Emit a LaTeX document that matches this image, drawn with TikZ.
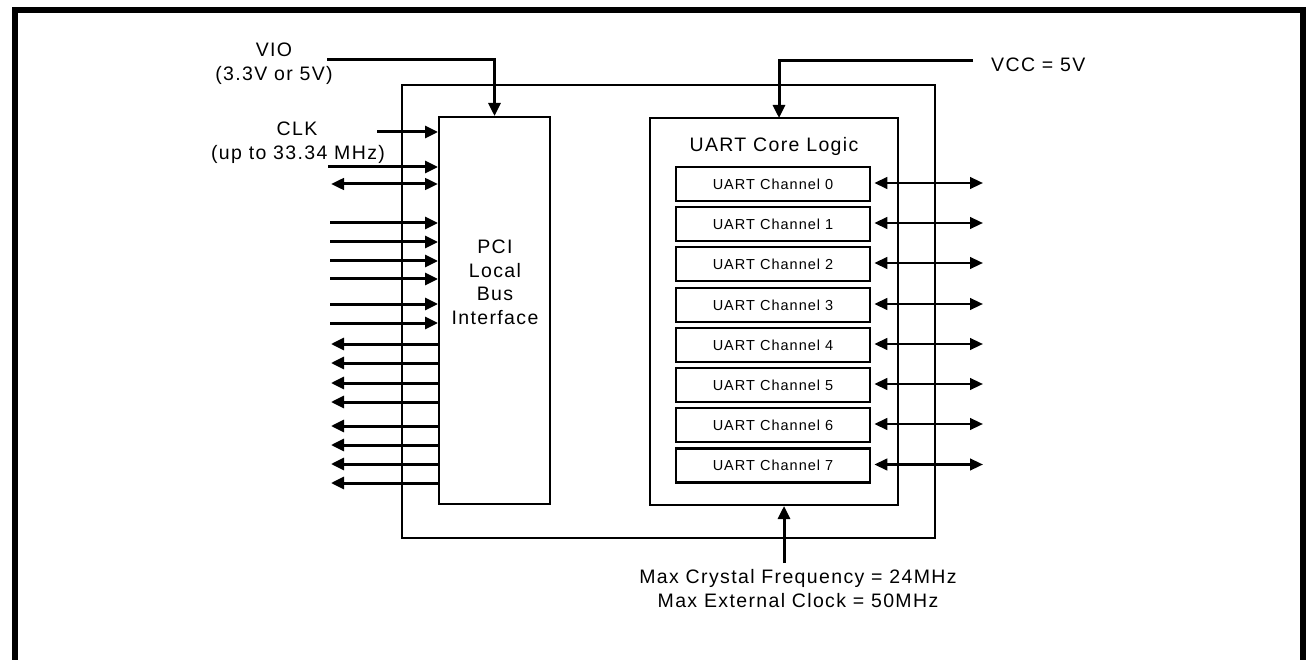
\documentclass[tikz,border=0pt]{standalone}
\usepackage{fontspec}
\setmainfont{Liberation Sans}[LetterSpace=7]
\usetikzlibrary{arrows.meta}
\begin{document}
\begin{tikzpicture}[x=1pt,y=-1pt,
  box/.style={draw,line width=2pt,inner sep=0pt,rectangle},
  chbox/.style={draw,line width=2.6pt,inner sep=0pt,minimum width=194pt,minimum height=34pt,
     font=\fontsize{14.5}{17}\selectfont},
  lbl/.style={inner sep=0pt,anchor=base,font=\fontsize{19.5}{22}\selectfont},
  sig/.style={line width=3pt,-{Triangle[length=13pt,width=12pt]}},
  bidir/.style={line width=2.6pt,{Triangle[length=13pt,width=11.5pt]}-{Triangle[length=13pt,width=11.5pt]}},
  pw/.style={line width=3pt,-{Triangle[length=13pt,width=12pt]}}]
\useasboundingbox (0,0) rectangle (1306,660);
% frame
\draw[line width=5.5pt] (15,663) -- (15,10) -- (1303,10) -- (1303,663);
% boxes
\node[box,minimum width=533pt,minimum height=453pt] (outer) at (668.5,311.5) {};
\node[box,minimum width=111pt,minimum height=387pt] (pci) at (494.5,310.5) {};
\node[box,minimum width=248pt,minimum height=387pt] (core) at (774,311.5) {};
% PCI text
\node[lbl] (p1) at (495,254) {PCI};
\node[lbl] (p2) at (495,277) {Local};
\node[lbl] (p3) at (495,301) {Bus};
\node[lbl] (p4) at (495,324) {Interface};
% core text
\node[lbl] (corelbl) at (774,152) {UART Core Logic};
% channels
\foreach \i/\y in {0/184,1/224,2/264,3/305,4/345,5/385,6/425,7/465.5}{
  \node[chbox] (c\i) at (773,\y) {UART Channel \i};
  \coordinate (e\i) at (983,\y-1);
  \draw[bidir] (c\i.east |- e\i) ++(3,0) -- (e\i);
}
% VIO
\node[lbl] (vio1) at (274,57) {VIO};
\node[lbl] (vio2) at (274,81) {(3.3V or 5V)};
\coordinate (vios) at (327,60);
\draw[pw] (vios) -| (pci.north);
% VCC
\node[lbl,anchor=base west] (vcc) at (991,72) {VCC = 5V};
\coordinate (vccs) at (973,61);
\coordinate (vccd) at (779,118);
\draw[pw] (vccs) -| (vccd);
% CLK
\node[lbl] (clk1) at (297,136) {CLK};
\node[lbl] (clk2) at (298,160) {(up to 33.34 MHz)};
\coordinate (k0) at (377,132);
\draw[sig] (k0) -- (k0 -| pci.west);
\coordinate (k1) at (328,167);
\draw[sig] (k1) -- (k1 -| pci.west);
\coordinate (k2) at (331,184);
\draw[bidir,line width=3pt] (k2) -- (k2 -| pci.west);
% inputs
\foreach \y [count=\n] in {223,242,261,279,304,323}{
  \coordinate (in\n) at (330,\y);
  \draw[sig] (in\n) -- (in\n -| pci.west);
}
% outputs
\foreach \y [count=\n] in {344,363,383,402,426,445,464,483}{
  \coordinate (out\n) at (331,\y);
  \draw[sig] (out\n -| pci.west) -- (out\n);
}
% crystal
\coordinate (xt) at (784,563);
\draw[pw] (xt) -- (xt |- core.south);
\node[lbl] (xt1) at (798,583) {Max Crystal Frequency = 24MHz};
\node[lbl] (xt2) at (798,607) {Max External Clock = 50MHz};
\end{tikzpicture}
\end{document}
